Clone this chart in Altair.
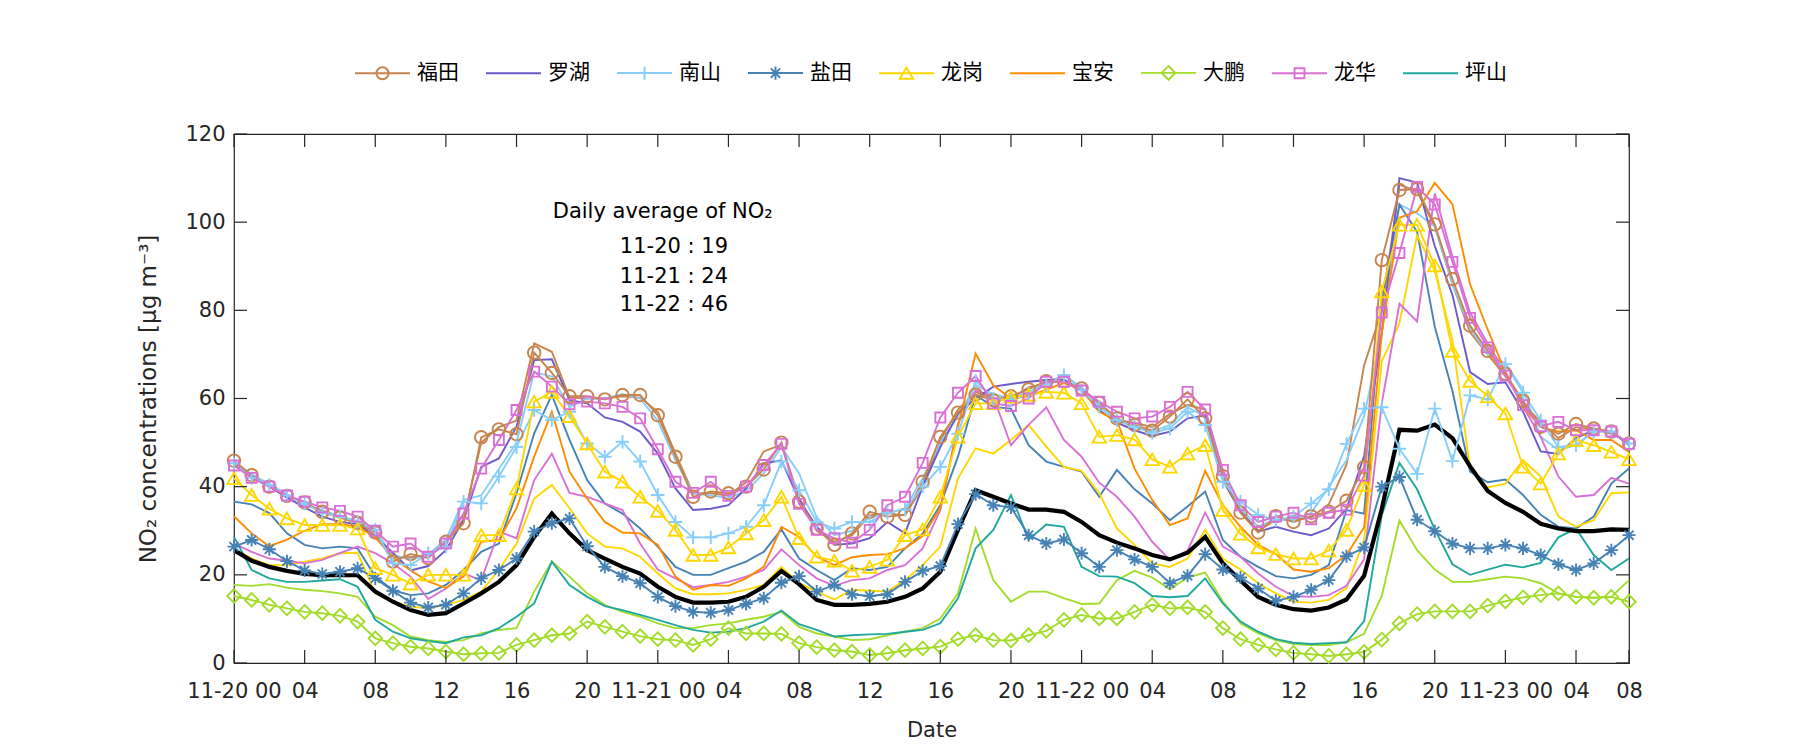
import altair as alt
import pandas as pd

HOURS = list(range(80))
X_TICKS = [0, 4, 8, 12, 16, 20, 24, 28, 32, 36, 40, 44, 48, 52, 56, 60, 64, 68, 72, 76, 79]
X_TICK_LABELS = ["11-20 00", "04", "08", "12", "16", "20", "11-21 00", "04", "08", "12", "16", "20",
                 "11-22 00", "04", "08", "12", "16", "20", "11-23 00", "04", "08"]
Y_TICKS = [0, 20, 40, 60, 80, 100, 120]

DISTRICTS = ["福田", "罗湖", "南山", "盐田", "龙岗", "宝安", "大鹏", "龙华", "坪山"]
COLORS = ["#C8844E", "#6A5ACD", "#87CEFA", "#4682B4", "#FFD700", "#FF8C00", "#A3DC2A", "#DA70D6", "#20A89E"]

futian = [45.9, 42.6, 40.0, 37.9, 36.4, 34.3, 33.0, 31.8, 29.6, 23.0,
          24.7, 23.8, 27.5, 31.7, 51.2, 53.0, 51.9, 70.4, 65.8, 60.5,
          60.5, 59.8, 60.8, 60.8, 56.2, 46.8, 37.7, 38.9, 38.5, 40.0,
          43.9, 50.0, 36.6, 30.5, 26.8, 29.4, 34.3, 33.2, 33.6, 41.1,
          51.3, 56.8, 60.9, 59.6, 60.5, 62.1, 63.9, 63.9, 62.3, 59.0,
          55.5, 54.0, 52.7, 55.9, 59.8, 55.5, 42.4, 34.1, 29.6, 33.3,
          32.0, 33.3, 34.3, 36.8, 44.4, 91.4, 107.3, 107.5, 99.5, 87.1,
          76.5, 70.8, 65.6, 59.5, 53.6, 52.0, 54.2, 53.2, 52.5, 49.8]
futian_2 = [45.5, 42.3, 40.2, 38.2, 36.0, 34.6, 33.2, 31.5, 29.0, 24.0,
            24.0, 24.5, 28.0, 32.5, 50.0, 53.5, 55.0, 72.5, 70.6, 60.2,
            60.0, 60.0, 60.5, 60.2, 57.0, 47.5, 38.5, 38.5, 38.0, 41.0,
            48.0, 49.5, 37.5, 30.0, 27.5, 29.0, 33.5, 34.0, 33.5, 40.0,
            50.5, 57.5, 61.5, 60.0, 60.0, 62.5, 63.5, 64.0, 62.0, 58.5,
            55.0, 54.5, 53.5, 56.5, 58.5, 57.5, 43.0, 34.5, 30.0, 32.5,
            32.5, 33.0, 36.0, 45.0, 67.5, 80.0, 108.5, 107.0, 99.0, 86.0,
            75.0, 70.0, 65.0, 59.0, 54.5, 51.0, 53.5, 53.0, 52.0, 50.2]
luohu = [45.0, 42.3, 40.0, 37.5, 35.3, 33.2, 32.0, 31.5, 28.5, 25.0,
         21.0, 22.0, 25.6, 32.4, 44.5, 46.4, 53.6, 68.7, 68.9, 59.6,
         58.9, 55.7, 54.7, 52.5, 47.5, 39.6, 34.7, 35.0, 35.8, 39.6,
         45.3, 46.0, 37.0, 30.9, 26.8, 27.1, 28.3, 32.0, 29.4, 40.0,
         49.0, 56.6, 60.0, 62.7, 63.3, 63.8, 64.2, 64.3, 61.9, 57.4,
         54.5, 52.8, 51.5, 52.5, 55.5, 56.2, 41.5, 34.3, 29.8, 30.9,
         29.8, 29.0, 30.5, 35.0, 47.0, 74.8, 110.0, 109.0, 94.6, 83.5,
         66.0, 63.3, 63.7, 57.0, 48.0, 47.4, 51.0, 52.8, 52.5, 49.4]
nanshan = [45.3, 42.0, 40.4, 38.0, 36.2, 34.0, 33.2, 32.0, 30.2, 22.6,
           22.2, 24.9, 26.4, 36.6, 36.2, 42.3, 49.0, 57.4, 55.1, 57.0,
           49.8, 46.8, 50.2, 45.7, 38.1, 32.0, 28.5, 28.5, 29.4, 30.9,
           35.8, 45.7, 39.2, 32.0, 30.5, 32.0, 32.0, 34.1, 34.8, 40.0,
           44.5, 52.0, 64.0, 60.0, 59.6, 61.1, 63.0, 65.3, 61.9, 58.1,
           55.1, 53.6, 52.2, 53.2, 57.0, 54.0, 41.1, 36.6, 33.6, 32.4,
           33.2, 36.2, 39.4, 49.7, 57.7, 58.0, 48.6, 42.9, 57.7, 45.8,
           60.7, 59.8, 67.8, 61.3, 55.0, 49.0, 49.4, 52.5, 52.5, 49.8]
nanshan_2 = [45.5, 42.8, 40.6, 38.3, 36.0, 34.5, 33.3, 32.2, 30.0, 24.5,
             23.5, 24.5, 28.0, 37.0, 38.0, 44.0, 50.0, 66.0, 65.0, 58.0,
             60.0, 60.0, 61.0, 60.0, 55.0, 46.0, 38.5, 38.0, 37.5, 39.0,
             43.0, 49.0, 43.0, 33.0, 29.0, 30.0, 33.0, 34.0, 35.0, 42.0,
             50.0, 56.0, 63.0, 61.0, 60.0, 61.5, 63.5, 65.3, 62.5, 58.5,
             55.0, 53.5, 52.5, 54.0, 58.0, 56.0, 43.0, 35.0, 31.0, 32.5,
             32.5, 34.0, 40.0, 46.0, 56.0, 75.0, 104.0, 102.0, 99.0, 86.0,
             76.0, 70.0, 68.0, 62.0, 51.3, 48.3, 49.4, 52.5, 52.5, 49.8]
yantian = [26.4, 27.9, 25.8, 23.1, 21.0, 20.2, 20.7, 21.5, 19.2, 16.4,
           13.7, 12.6, 13.2, 15.8, 19.2, 21.1, 23.7, 29.8, 31.7, 32.8,
           26.5, 21.8, 19.7, 18.1, 15.0, 12.9, 11.6, 11.4, 12.0, 13.4,
           14.7, 18.2, 19.7, 16.2, 17.7, 15.6, 15.2, 15.6, 18.4, 20.9,
           22.0, 31.5, 38.3, 35.8, 35.3, 29.0, 27.1, 28.0, 24.9, 21.8,
           25.6, 23.5, 21.8, 18.1, 19.8, 24.7, 21.2, 19.4, 16.9, 14.1,
           15.0, 16.6, 18.8, 24.2, 26.2, 40.0, 42.2, 32.5, 29.9, 27.1,
           26.0, 26.0, 26.8, 26.0, 24.5, 22.4, 21.1, 22.6, 25.6, 29.0]
yantian_2 = [36.6, 36.0, 34.0, 29.4, 26.8, 26.0, 26.4, 26.0, 19.6, 16.5,
             15.4, 15.8, 17.7, 21.1, 25.2, 27.1, 38.5, 52.1, 60.8, 50.6,
             41.5, 36.2, 33.9, 30.5, 26.4, 21.8, 20.0, 20.0, 21.5, 23.0,
             25.2, 30.3, 23.7, 21.1, 18.8, 21.5, 21.1, 21.8, 26.0, 29.4,
             35.8, 46.8, 60.8, 58.1, 57.7, 49.4, 45.7, 44.5, 43.4, 37.7,
             43.8, 39.4, 36.2, 32.4, 35.5, 38.9, 27.9, 24.1, 21.8, 19.7,
             19.2, 20.0, 22.2, 34.7, 33.9, 82.7, 104.0, 97.8, 76.3, 61.7,
             43.4, 41.0, 41.6, 38.1, 33.6, 30.9, 30.5, 33.2, 40.7, 44.1]
longgang = [41.9, 38.1, 35.0, 32.8, 31.3, 31.3, 31.3, 30.5, 21.5, 20.0,
            18.0, 20.0, 20.0, 20.0, 29.0, 29.0, 39.6, 59.3, 61.5, 56.0,
            49.8, 43.4, 41.1, 37.7, 34.5, 30.2, 24.5, 24.5, 26.2, 29.4,
            32.4, 37.7, 28.3, 24.1, 23.2, 20.9, 21.8, 23.4, 29.0, 30.3,
            37.7, 51.3, 58.9, 58.9, 60.4, 60.8, 61.5, 61.3, 58.9, 51.3,
            51.7, 50.7, 46.2, 44.5, 47.5, 49.4, 34.7, 29.3, 26.2, 24.7,
            23.7, 23.7, 25.5, 30.2, 40.4, 84.3, 99.4, 99.4, 90.2, 70.8,
            64.0, 60.5, 56.6, 44.5, 40.7, 47.5, 50.6, 49.4, 47.9, 46.2]
longgang_2 = [26.0, 23.7, 22.2, 22.2, 23.0, 23.7, 24.9, 25.0, 15.8, 13.9,
              12.8, 12.4, 13.2, 14.3, 16.2, 21.1, 27.1, 37.3, 40.4, 35.1,
              29.4, 26.4, 26.0, 24.1, 20.3, 16.9, 15.6, 15.6, 15.8, 16.6,
              17.7, 21.8, 18.1, 16.2, 14.4, 16.6, 16.4, 16.2, 18.8, 22.2,
              26.4, 41.9, 48.7, 47.5, 50.6, 54.0, 49.1, 44.5, 43.6, 38.5,
              30.5, 26.8, 22.6, 21.8, 23.7, 30.2, 23.7, 21.2, 18.1, 15.8,
              13.9, 13.7, 14.3, 17.0, 28.0, 68.4, 77.1, 97.0, 89.0, 73.2,
              44.2, 39.8, 40.7, 46.0, 42.3, 33.2, 30.9, 32.4, 38.5, 38.7]
baoan = [33.3, 29.4, 26.5, 28.0, 30.0, 31.5, 31.5, 31.0, 28.5, 24.0,
         21.0, 18.5, 17.0, 19.6, 27.5, 27.9, 35.1, 46.8, 57.0, 43.4,
         37.3, 32.0, 29.6, 29.4, 26.8, 19.6, 16.6, 17.7, 17.5, 19.2,
         21.8, 30.9, 28.6, 24.1, 22.2, 24.0, 24.5, 24.7, 26.0, 28.8,
         35.1, 53.6, 70.2, 63.0, 60.0, 60.5, 62.0, 63.5, 62.0, 57.0,
         55.0, 44.1, 37.0, 31.3, 32.8, 43.6, 35.8, 30.9, 26.8, 24.7,
         21.2, 20.7, 21.5, 24.5, 30.8, 74.8, 101.0, 102.5, 108.9, 104.1,
         85.9, 75.6, 66.0, 58.1, 53.5, 52.5, 52.8, 50.6, 50.6, 47.9]
dapeng = [15.2, 14.3, 13.2, 12.4, 11.6, 11.3, 10.7, 9.4, 5.6, 4.5,
          3.7, 3.3, 2.6, 2.0, 2.2, 2.3, 4.1, 5.2, 6.3, 6.7,
          9.4, 8.2, 7.1, 6.1, 5.4, 5.2, 4.1, 5.4, 7.9, 6.7,
          6.7, 6.6, 4.5, 3.6, 2.9, 2.6, 1.8, 2.2, 2.9, 3.3,
          3.7, 5.4, 6.3, 5.2, 5.1, 6.3, 7.3, 9.8, 10.9, 10.1,
          10.1, 11.6, 13.2, 12.4, 12.6, 11.6, 7.9, 5.4, 4.1, 3.1,
          2.3, 2.0, 1.6, 2.0, 2.5, 5.3, 9.0, 11.1, 11.7, 11.7,
          11.7, 13.0, 14.0, 14.9, 15.4, 15.8, 15.0, 14.8, 15.0, 13.9]
dapeng_2 = [17.7, 17.5, 17.9, 17.1, 16.6, 16.3, 15.8, 15.0, 10.5, 8.6,
            6.0, 5.2, 4.8, 5.2, 6.7, 7.5, 7.9, 16.2, 23.0, 19.6,
            15.8, 13.2, 11.6, 10.5, 9.0, 7.9, 7.9, 8.6, 9.0, 9.8,
            10.5, 11.6, 8.2, 6.7, 6.0, 5.2, 5.4, 6.3, 7.1, 7.9,
            10.1, 15.8, 30.5, 18.8, 13.9, 16.2, 16.2, 14.7, 13.4, 13.5,
            18.8, 20.9, 19.4, 16.7, 19.4, 20.5, 13.9, 9.0, 6.7, 5.2,
            4.3, 4.1, 4.1, 4.7, 6.6, 15.2, 32.3, 25.6, 21.2, 18.4,
            18.4, 19.0, 19.6, 19.2, 18.1, 15.8, 15.0, 14.8, 15.0, 18.8]
longhua = [44.8, 42.0, 40.0, 38.0, 36.6, 35.3, 34.5, 33.2, 30.0, 26.4,
           27.1, 24.1, 27.1, 33.9, 44.1, 50.6, 57.4, 66.1, 62.7, 58.7,
           59.3, 58.9, 58.1, 55.5, 48.5, 41.1, 38.6, 41.1, 37.9, 40.0,
           44.9, 49.7, 36.1, 30.2, 28.3, 27.3, 30.2, 35.8, 37.7, 45.4,
           55.7, 61.3, 65.1, 58.9, 58.3, 60.0, 63.8, 63.8, 61.8, 59.3,
           57.0, 55.5, 55.9, 58.1, 61.5, 57.5, 43.8, 35.8, 32.0, 33.2,
           34.1, 32.6, 34.1, 34.8, 42.5, 79.5, 93.0, 108.0, 104.0, 91.0,
           78.3, 71.6, 65.2, 58.5, 53.7, 54.7, 52.8, 52.8, 52.5, 49.7]
longhua_2 = [27.1, 25.2, 23.7, 23.2, 22.6, 23.4, 24.9, 26.4, 24.9, 22.6,
             19.6, 14.5, 16.9, 20.3, 18.8, 29.8, 28.3, 41.5, 47.5, 38.6,
             37.7, 36.2, 34.7, 27.1, 21.2, 19.2, 17.2, 17.7, 18.4, 19.6,
             21.1, 25.8, 22.2, 19.2, 17.5, 18.8, 19.2, 21.1, 22.2, 26.0,
             34.7, 54.3, 61.9, 60.4, 49.4, 54.0, 58.0, 50.6, 46.8, 40.9,
             37.7, 33.2, 27.5, 23.4, 25.5, 34.1, 26.4, 24.1, 20.3, 17.3,
             15.2, 15.0, 15.4, 17.5, 23.5, 58.9, 81.5, 77.5, 106.5, 92.2,
             79.5, 72.4, 66.0, 58.1, 51.3, 42.3, 37.7, 38.1, 42.0, 40.7]
pingshan = [28.6, 21.1, 19.2, 18.4, 18.4, 18.7, 19.0, 17.3, 9.8, 7.1,
            5.6, 5.0, 4.5, 5.8, 6.3, 7.9, 10.5, 13.5, 23.0, 17.7,
            15.0, 12.9, 12.0, 10.9, 9.8, 8.6, 7.5, 6.9, 7.1, 7.9,
            9.4, 11.9, 8.8, 7.5, 6.0, 6.3, 6.5, 6.6, 7.1, 7.5,
            9.0, 14.7, 26.0, 30.2, 38.1, 28.0, 31.4, 30.9, 21.8, 19.7,
            19.6, 18.1, 15.2, 14.9, 15.2, 19.2, 13.5, 9.4, 7.1, 5.4,
            4.6, 4.3, 4.5, 4.7, 9.5, 33.5, 45.4, 39.4, 30.3, 22.4,
            20.0, 21.2, 22.3, 21.7, 22.7, 28.5, 30.5, 24.5, 21.1, 23.7]
average = [25.6, 23.2, 21.8, 20.9, 20.2, 19.9, 19.9, 19.9, 16.2, 13.9,
           12.0, 10.9, 11.3, 13.5, 15.8, 18.4, 22.2, 28.6, 33.9, 29.4,
           25.6, 23.7, 21.8, 20.3, 17.3, 15.0, 13.7, 13.7, 13.9, 15.0,
           17.3, 20.9, 17.9, 14.3, 13.2, 13.2, 13.4, 13.9, 15.0, 16.9,
           20.7, 30.2, 39.2, 37.7, 36.2, 34.8, 34.8, 34.3, 32.0, 29.0,
           27.3, 26.0, 24.5, 23.5, 25.0, 28.6, 22.6, 18.7, 15.0, 13.2,
           12.2, 11.9, 12.6, 14.4, 19.8, 35.0, 52.9, 52.7, 54.1, 51.0,
           44.6, 39.0, 36.3, 34.3, 31.6, 30.5, 29.9, 29.9, 30.3, 30.2]

NOTE_LINES = ["Daily average of NO₂", "11-20 : 19", "11-21 : 24", "11-22 : 46"]

FONT = "DejaVu Sans"
CJK = "Noto Sans CJK SC"
W, H = 1395, 529
TICK = 13

col = dict(zip(DISTRICTS, COLORS))

PLUS = "M-1,0L1,0M0,-1L0,1"
STAR = "M-1,0L1,0M0,-1L0,1M-0.7,-0.7L0.7,0.7M-0.7,0.7L0.7,-0.7"


def long_df(items):
    rows = []
    for name, vals, color in items:
        for h, v in zip(HOURS, vals):
            rows.append({"hour": h, "value": v, "series": name, "color": color})
    return pd.DataFrame(rows)


thin_df = long_df([
    ("福田2", futian_2, col["福田"]), ("南山2", nanshan_2, col["南山"]),
    ("盐田2", yantian_2, col["盐田"]), ("龙岗2", longgang_2, col["龙岗"]),
    ("龙华2", longhua_2, col["龙华"]), ("大鹏2", dapeng_2, col["大鹏"]),
    ("罗湖", luohu, col["罗湖"]), ("宝安", baoan, col["宝安"]), ("坪山", pingshan, col["坪山"]),
])
avg_df = long_df([("平均", average, "#000000")])

marker_specs = [
    ("福田", futian, "circle", 156),
    ("南山", nanshan, PLUS, 180),
    ("盐田", yantian, STAR, 170),
    ("龙岗", longgang, "triangle-up", 180),
    ("大鹏", dapeng, "diamond", 185),
    ("龙华", longhua, "square", 100),
]
mk_df = long_df([(n, v, col[n]) for n, v, _, _ in marker_specs])
shape_of = {n: s for n, _, s, _ in marker_specs}
size_of = {n: z for n, _, _, z in marker_specs}
mk_df["shape"] = mk_df["series"].map(shape_of)
mk_df["size"] = mk_df["series"].map(size_of)

xs = alt.Scale(domain=[0, 79], nice=False, zero=False)
ys = alt.Scale(domain=[0, 120], nice=False)

label_expr = "[" + ",".join("'" + s + "'" for s in X_TICK_LABELS) + "][indexof([" + \
    ",".join(str(t) for t in X_TICKS) + "], datum.value)]"

xaxis = alt.Axis(values=X_TICKS, labelExpr=label_expr, title="Date", labelOverlap=False,
                 labelFlush=False, labelBound=False, labelPadding=17, titleY=67,
                 titleBaseline="middle", ticks=False, domain=False, grid=False)
yaxis = alt.Axis(values=Y_TICKS, title="NO₂ concentrations [μg m⁻³]", labelPadding=9,
                 titleX=-86, titleY=H / 2, titleBaseline="middle", titleAlign="center",
                 titleAngle=270, titleFontSize=23, ticks=False, domain=False, grid=False)

X = alt.X("hour:Q", scale=xs, axis=xaxis)
Y = alt.Y("value:Q", scale=ys, axis=yaxis)

thin = alt.Chart(thin_df).mark_line(strokeWidth=1.9).encode(
    x=X, y=Y, detail="series:N", color=alt.Color("color:N", scale=None))
avg = alt.Chart(avg_df).mark_line(strokeWidth=4.2, color="#000000").encode(x=X, y=Y)
mk_lines = alt.Chart(mk_df).mark_line(strokeWidth=1.9).encode(
    x=X, y=Y, detail="series:N", color=alt.Color("color:N", scale=None))
mk_points = alt.Chart(mk_df).mark_point(filled=False, strokeWidth=1.9, opacity=1).encode(
    x=X, y=Y,
    color=alt.Color("color:N", scale=None),
    shape=alt.Shape("shape:N", scale=None),
    size=alt.Size("size:Q", scale=None))

# legend-only layer (points clipped away; legend symbols = line + marker)
LEG_PATHS = [
    "M-1,0L1,0M0.22,0A0.22,0.22 0 1,1 -0.22,0A0.22,0.22 0 1,1 0.22,0Z",
    "M-1,0L1,0",
    "M-1,0L1,0M0,-0.24L0,0.24",
    "M-1,0L1,0M0,-0.24L0,0.24M-0.17,-0.17L0.17,0.17M-0.17,0.17L0.17,-0.17",
    "M-1,0L1,0M0,-0.21L0.24,0.2L-0.24,0.2Z",
    "M-1,0L1,0",
    "M-1,0L1,0M0,-0.25L0.25,0L0,0.25L-0.25,0Z",
    "M-1,0L1,0M-0.18,-0.18L0.18,-0.18L0.18,0.18L-0.18,0.18Z",
    "M-1,0L1,0",
]
leg = alt.Legend(title=None, orient="none", legendX=120, legendY=-90, direction="horizontal",
                 columns=9, symbolSize=3025, symbolStrokeWidth=1.9, labelFont=CJK,
                 labelFontSize=21, labelColor="#000000", labelOffset=6, columnPadding=23,
                 padding=0, symbolOpacity=1)
legend_layer = alt.Chart(pd.DataFrame({"name": DISTRICTS})).mark_point(
    filled=False, clip=True, strokeWidth=1.9).encode(
    x=alt.value(0), y=alt.value(-500),
    color=alt.Color("name:N", scale=alt.Scale(domain=DISTRICTS, range=COLORS), legend=leg),
    shape=alt.Shape("name:N", scale=alt.Scale(domain=DISTRICTS, range=LEG_PATHS), legend=leg))

note_df = pd.DataFrame({
    "text": NOTE_LINES,
    "hour": [18.05, 21.85, 21.85, 21.85],
    "value": [102.3, 94.3, 87.6, 81.1],
})
note = alt.Chart(note_df).mark_text(align="left", baseline="middle", font=FONT,
                                    fontSize=21, color="#000000").encode(x=X, y=Y, text="text:N")

xt_df = pd.DataFrame({"hour": X_TICKS})
yt_df = pd.DataFrame({"value": Y_TICKS})
tick_style = dict(color="#262626", strokeWidth=1.2)
xt_bot = alt.Chart(xt_df).mark_rule(**tick_style).encode(x=X, y=alt.value(H - TICK), y2=alt.value(H))
xt_top = alt.Chart(xt_df).mark_rule(**tick_style).encode(x=X, y=alt.value(0), y2=alt.value(TICK))
yt_left = alt.Chart(yt_df).mark_rule(**tick_style).encode(y=Y, x=alt.value(0), x2=alt.value(TICK))
yt_right = alt.Chart(yt_df).mark_rule(**tick_style).encode(y=Y, x=alt.value(W - TICK), x2=alt.value(W))

chart = alt.layer(
    thin, avg, mk_lines, mk_points, legend_layer, note, xt_bot, xt_top, yt_left, yt_right
).resolve_scale(
    color="independent", shape="independent", size="independent"
).properties(
    width=W, height=H,
    autosize=alt.AutoSizeParams(type="none"),
    padding={"left": 226, "top": 126, "right": 150, "bottom": 85},
).configure_view(
    stroke="#262626", strokeWidth=1.2
).configure_axis(
    labelFont=FONT, labelFontSize=21, labelColor="#262626",
    titleFont=FONT, titleFontSize=21, titleColor="#262626", titleFontWeight="normal"
)

chart.save("out.html", embed_options={"renderer": "svg", "actions": False})
